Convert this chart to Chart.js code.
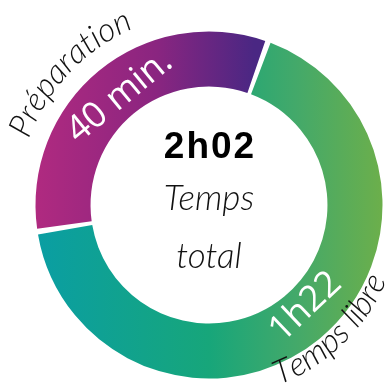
<!DOCTYPE html>
<html lang="fr">
<head>
<meta charset="utf-8">
<title>Temps total</title>
<script src="https://cdn.jsdelivr.net/npm/chart.js@4.4.1/dist/chart.umd.min.js"></script>
<style>
  html, body { margin: 0; padding: 0; background: #ffffff; }
  #wrap { width: 390px; height: 388px; position: relative; }
</style>
</head>
<body>
<div id="wrap"><canvas id="chart" width="390" height="388"></canvas></div>
<script>
// Two activities of the session, in minutes
const categories = ['Préparation', 'Temps libre'];
const minutes = [40, 82];
const valueLabels = ['40 min.', '1h22'];
const totalLabel = '2h02';
const centerCaption = ['Temps', 'total'];

const HAND_FONT = 'italic 300 {s}px Lato, "DejaVu Sans", sans-serif';
const handFont = s => HAND_FONT.replace('{s}', s);

// Horizontal colour ramps across the chart area
function ramp(ctx, stops) {
  const area = ctx.chart.chartArea;
  if (!area) return stops[0][1];
  const g = ctx.chart.ctx.createLinearGradient(area.left, 0, area.right, 0);
  stops.forEach(([p, c]) => g.addColorStop(p, c));
  return g;
}
const rampStops = [
  [[0, '#b02a80'], [0.35, '#8a2580'], [0.63, '#4a2783'], [1, '#4a2783']],
  [[0, '#0a9ea3'], [0.5, '#17a67a'], [0.75, '#43a96a'], [1, '#6caf4b']]
];

// Text laid along a circle; outward = tops away from the centre
function arcText(ctx, text, cx, cy, r, mid, outward) {
  const total = ctx.measureText(text).width;
  let acc = 0;
  for (const ch of text) {
    const w = ctx.measureText(ch).width;
    const off = (acc + w / 2) / r;
    const a = outward ? mid - total / (2 * r) + off : mid + total / (2 * r) - off;
    ctx.save();
    ctx.translate(cx + r * Math.cos(a), cy + r * Math.sin(a));
    ctx.rotate(outward ? a + Math.PI / 2 : a - Math.PI / 2);
    ctx.fillText(ch, 0, 0);
    ctx.restore();
    acc += w;
  }
}

const ringLabels = {
  id: 'ringLabels',
  afterDatasetsDraw(chart) {
    const ctx = chart.ctx;
    const arcs = chart.getDatasetMeta(0).data;
    const { x: cx, y: cy } = arcs[0];
    ctx.save();

    arcs.forEach((arc, i) => {
      const { startAngle, endAngle, innerRadius, outerRadius } = arc.getProps(
        ['startAngle', 'endAngle', 'innerRadius', 'outerRadius'], true);
      const mid = (startAngle + endAngle) / 2;
      const lower = Math.sin(mid) > 0;

      // value inside the band
      const rm = (innerRadius + outerRadius) / 2 - 4;
      const va = mid + (lower ? -0.07 : 0);
      ctx.save();
      ctx.translate(cx + rm * Math.cos(va), cy + rm * Math.sin(va));
      ctx.rotate(lower ? va - Math.PI / 2 : va + Math.PI / 2);
      ctx.fillStyle = '#ffffff';
      ctx.font = '400 36px "Open Sans", sans-serif';
      ctx.textAlign = 'center';
      ctx.textBaseline = 'middle';
      ctx.fillText(valueLabels[i], 0, 0);
      ctx.restore();

      // category name outside the ring
      ctx.fillStyle = '#111111';
      ctx.font = handFont(33);
      ctx.textAlign = 'center';
      ctx.textBaseline = 'alphabetic';
      const nameAngle = mid + (lower ? -0.07 : -0.13);
      arcText(ctx, categories[i], cx, cy, outerRadius + (lower ? 21 : 20), nameAngle, !lower);
    });

    // centre total
    ctx.fillStyle = '#000000';
    ctx.textAlign = 'center';
    ctx.textBaseline = 'alphabetic';
    ctx.font = 'bold 37px "Liberation Sans", Arial, sans-serif';
    ctx.letterSpacing = '2px';
    ctx.fillText(totalLabel, cx + 1, cy - 47);
    ctx.letterSpacing = '0px';
    ctx.fillStyle = '#111111';
    ctx.font = handFont(35);
    ctx.fillText(centerCaption[0], cx, cy + 5);
    ctx.fillText(centerCaption[1], cx, cy + 63);
    ctx.restore();
  }
};

new Chart(document.getElementById('chart'), {
  type: 'doughnut',
  data: {
    labels: categories,
    datasets: [{
      data: minutes,
      backgroundColor: ctx => ramp(ctx, rampStops[ctx.dataIndex]),
      borderWidth: 0,
      spacing: 3,
      hoverOffset: 0
    }]
  },
  options: {
    responsive: false,
    animation: false,
    rotation: -98.5,
    cutout: '68%',
    layout: { padding: { left: 35.5, right: 7.5, top: 31.5, bottom: 9.5 } },
    plugins: { legend: { display: false }, tooltip: { enabled: false } },
    events: []
  },
  plugins: [ringLabels]
});
</script>
</body>
</html>
